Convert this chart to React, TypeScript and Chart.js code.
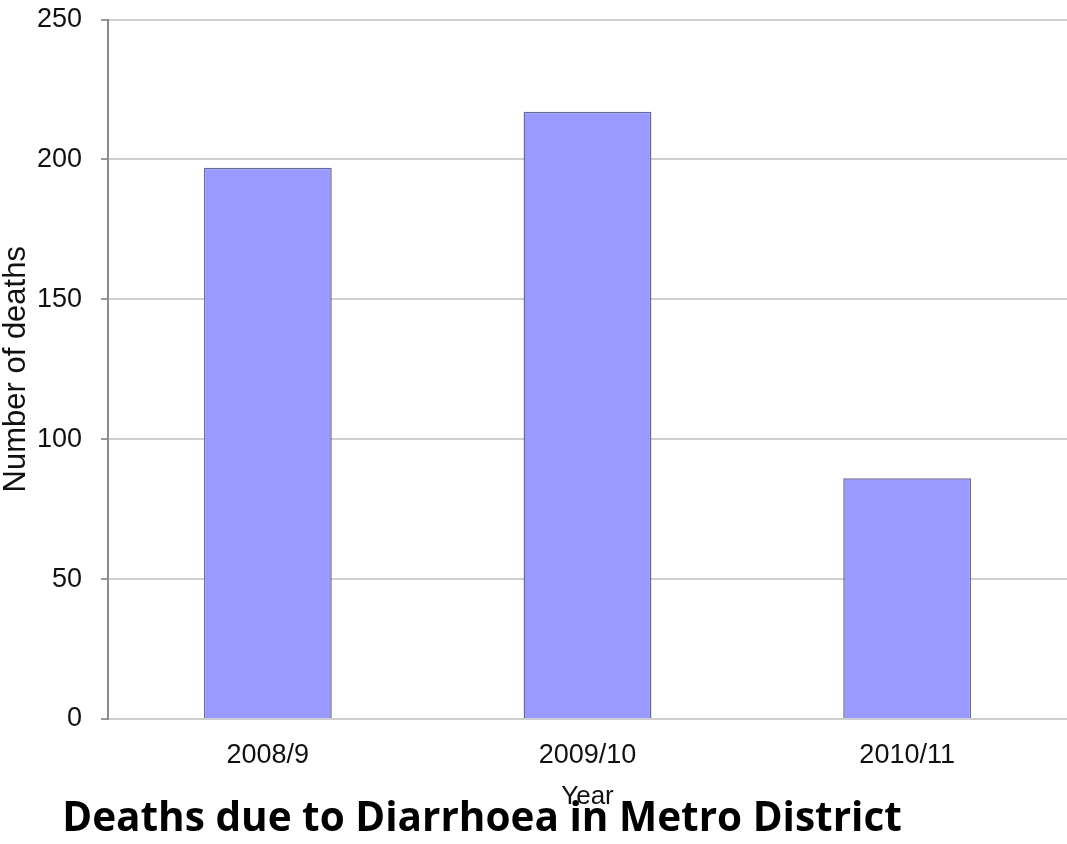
import React, { useEffect, useRef } from "react";
import { Chart, registerables } from "chart.js";

Chart.register(...registerables);

const categories = ["2008/9", "2009/10", "2010/11"];
const deaths = [197, 217, 86];
const yTicks = [0, 50, 100, 150, 200, 250];
const chartTitle = "Deaths due to Diarrhoea in Metro District";
const xTitle = "Year";
const yTitle = "Number of deaths";

const titlePlugin = {
  id: "bottomTitle",
  afterDraw(chart: any) {
    const ctx = chart.ctx;
    ctx.save();
    ctx.font = "bold 40.5px 'Open Sans'";
    ctx.fillStyle = "#000";
    ctx.textAlign = "center";
    ctx.textBaseline = "alphabetic";
    ctx.fillText(chartTitle, 482, 831);
    ctx.restore();
  },
};

export default function App() {
  const ref = useRef<HTMLCanvasElement>(null);
  useEffect(() => {
    document.body.style.margin = "0";
    const chart = new Chart(ref.current!, {
      type: "bar",
      data: {
        labels: categories,
        datasets: [
          {
            data: deaths,
            backgroundColor: "#9999ff",
            borderColor: "#6a6a9a",
            borderWidth: 1.5,
            barPercentage: 0.4,
            categoryPercentage: 1,
          },
        ],
      },
      options: {
        animation: false,
        responsive: true,
        maintainAspectRatio: false,
        layout: { padding: { top: 19.5, bottom: 32, left: 0, right: 0 } },
        plugins: { legend: { display: false }, tooltip: { enabled: false }, title: { display: false } },
        scales: {
          x: {
            grid: { display: false, drawTicks: false },
            border: { display: true, color: "#cfcfcf", width: 2 },
            ticks: {
              padding: 20,
              color: "#111",
              font: { family: "'Liberation Sans', Arial, sans-serif", size: 27 },
            },
            title: {
              display: true,
              text: xTitle,
              color: "#111",
              padding: 0,
              font: { family: "'Liberation Sans', Arial, sans-serif", size: 26 },
            },
            afterFit(scale: any) {
              scale.height = 93;
              scale.paddingLeft = 0;
              scale.paddingRight = 0;
            },
          },
          y: {
            min: 0,
            max: 250,
            afterBuildTicks(scale: any) {
              scale.ticks = yTicks.map((v) => ({ value: v }));
            },
            grid: { color: "#cfcfcf", lineWidth: 2, tickLength: 7, tickColor: "#9a9a9a", tickWidth: 2 },
            border: { display: true, color: "#8a8a8a", width: 2 },
            ticks: {
              padding: 19,
              color: "#111",
              font: { family: "'Liberation Sans', Arial, sans-serif", size: 27 },
            },
            title: {
              display: true,
              text: yTitle,
              color: "#111",
              padding: 0,
              font: { family: "'Liberation Sans', Arial, sans-serif", size: 31, lineHeight: 1.05 },
            },
            afterFit(scale: any) {
              scale.width = 108;
              scale.paddingTop = 0;
              scale.paddingBottom = 0;
            },
          },
        },
      },
      plugins: [titlePlugin],
    });
    return () => chart.destroy();
  }, []);
  return (
    <div style={{ position: "absolute", left: 0, top: 0, width: 1067, height: 844, background: "#fff" }}>
      <canvas ref={ref} />
    </div>
  );
}
